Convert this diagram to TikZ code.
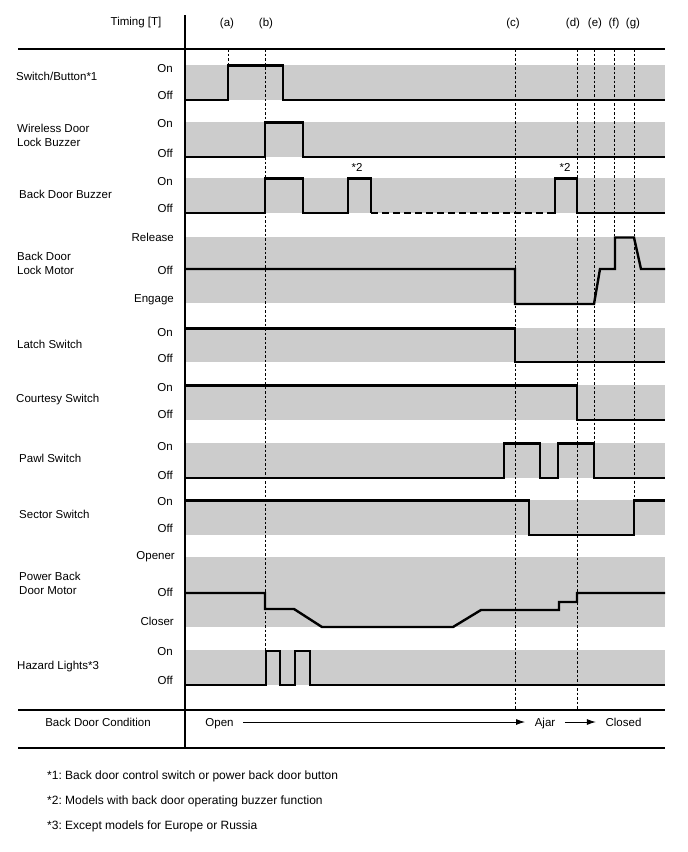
\documentclass[tikz,border=0pt]{standalone}
\usepackage{fontspec}
\setmainfont{Liberation Sans}
\usetikzlibrary{arrows.meta}
\definecolor{bandgray}{RGB}{204,204,204}
\frenchspacing
\begin{document}
\begin{tikzpicture}[x=1pt,y=-1pt,
  sig/.style={line width=2.4pt,line join=miter,line cap=butt},
  sigdash/.style={line width=2.4pt,dash pattern=on 7pt off 4pt},
  tline/.style={line width=0.9pt,dash pattern=on 2.6pt off 1.9pt},
  frame/.style={line width=1.3pt},
  txt/.style={font=\fontsize{11.5}{14}\selectfont,inner sep=0pt},
  note/.style={font=\fontsize{12}{14}\selectfont,inner sep=0pt,anchor=west},
  lvl/.style={txt,anchor=east},
  rowname/.style={txt,anchor=west,align=left},
  cond/.style={txt,inner xsep=9.5pt,text height=8.3pt,text depth=0.3pt},
  condarrow/.style={line width=0.9pt,-{Latex[length=9pt,width=6pt]}}]
\useasboundingbox (0,0) rectangle (688,852);
% grey bands
\foreach \a/\b in {65/100,122/157,178/213,237/303,328/362,385/420,443/478,500/535,557/627,650/685}
  \fill[bandgray] (185,\a) rectangle (665,\b);
% timing lines
\draw[tline] (228,49) -- (228,65);
\draw[tline] (265,49) -- (265,650);
\draw[tline] (515,49) -- (515,710);
\draw[tline] (577,49) -- (577,710);
\draw[tline] (594,49) -- (594,443);
\draw[tline] (614,49) -- (614,237);
\draw[tline] (634,49) -- (634,500);
% frame
\draw[frame] (185,15) -- (185,748);
\draw[frame] (18,49) -- (665,49);
\draw[frame] (18,710) -- (665,710);
\draw[frame] (18,748) -- (665,748);
% header
\node[txt] (timing) at (136,23) {Timing [T]};
\node[txt] (ta) at (227,24) {(a)};
\node[txt] (tb) at (266,24) {(b)};
\node[txt] (tc) at (513,24) {(c)};
\node[txt] (td) at (573,24) {(d)};
\node[txt] (te) at (595,24) {(e)};
\node[txt] (tf) at (614,24) {(f)};
\node[txt] (tg) at (633,24) {(g)};
% row names
\node[rowname] (n1) at (16,76) {Switch/Button*1};
\node[rowname] (n2) at (17,135) {Wireless Door\\Lock Buzzer};
\node[rowname] (n3) at (19,194) {Back Door Buzzer};
\node[rowname] (n4) at (17,263) {Back Door\\Lock Motor};
\node[rowname] (n5) at (17,344) {Latch Switch};
\node[rowname] (n6) at (16,400) {Courtesy Switch};
\node[rowname] (n7) at (19,458) {Pawl Switch};
\node[rowname] (n8) at (19,514) {Sector Switch};
\node[rowname] (n9) at (19,583) {Power Back\\Door Motor};
\node[rowname] (n10) at (17,667) {Hazard Lights*3};
% level labels
\node[lvl] (l1a) at (173,69) {On};
\node[lvl] (l1b) at (173,95) {Off};
\node[lvl] (l2a) at (173,124) {On};
\node[lvl] (l2b) at (173,153) {Off};
\node[lvl] (l3a) at (173,182) {On};
\node[lvl] (l3b) at (173,208) {Off};
\node[lvl] (l4a) at (174,237) {Release};
\node[lvl] (l4b) at (173,270) {Off};
\node[lvl] (l4c) at (174,300) {Engage};
\node[lvl] (l5a) at (173,333) {On};
\node[lvl] (l5b) at (173,358) {Off};
\node[lvl] (l6a) at (173,388) {On};
\node[lvl] (l6b) at (173,414) {Off};
\node[lvl] (l7a) at (173,447) {On};
\node[lvl] (l7b) at (173,475) {Off};
\node[lvl] (l8a) at (173,502) {On};
\node[lvl] (l8b) at (173,528) {Off};
\node[lvl] (l9a) at (175,557) {Opener};
\node[lvl] (l9b) at (173,592) {Off};
\node[lvl] (l9c) at (174,621) {Closer};
\node[lvl] (l10a) at (173,652) {On};
\node[lvl] (l10b) at (173,680) {Off};
% notes over buzzer pulses
\node[txt] (s2a) at (357,167) {*2};
\node[txt] (s2b) at (565,167) {*2};
% signals
\draw[sig] (185,100) -- (228,100) -- (228,65.5) -- (283,65.5) -- (283,100) -- (665,100);
\draw[sig] (185,157) -- (265,157) -- (265,122.5) -- (303,122.5) -- (303,157) -- (665,157);
\draw[sig] (185,213) -- (265,213) -- (265,178.5) -- (303,178.5) -- (303,213) -- (348,213) -- (348,178.5) -- (371,178.5) -- (371,213);
\draw[sigdash] (371,213) -- (552,213);
\draw[sig] (552,213) -- (555,213) -- (555,178.5) -- (577,178.5) -- (577,213) -- (665,213);
\draw[sig] (185,269) -- (515,269) -- (515,304) -- (594,304) -- (600,269) -- (615,269) -- (615,237.5) -- (634,237.5) -- (641,269) -- (665,269);
\draw[sig] (185,328.5) -- (515,328.5) -- (515,362) -- (665,362);
\draw[sig] (185,385.5) -- (577,385.5) -- (577,420) -- (665,420);
\draw[sig] (185,478) -- (504,478) -- (504,443.5) -- (540,443.5) -- (540,478) -- (558,478) -- (558,443.5) -- (594,443.5) -- (594,478) -- (665,478);
\draw[sig] (185,500.5) -- (529,500.5) -- (529,535) -- (634,535) -- (634,500.5) -- (665,500.5);
\draw[sig] (185,593) -- (265,593) -- (265,609) -- (294,609) -- (322,627) -- (453,627) -- (481,610) -- (559,610) -- (559,602) -- (577,602) -- (577,593) -- (665,593);
\draw[sig] (185,685) -- (266,685) -- (266,651) -- (280,651) -- (280,685) -- (295,685) -- (295,651) -- (310,651) -- (310,685) -- (665,685);
% back door condition
\node[txt] (cond) at (98,722) {Back Door Condition};
\node[cond] (open) at (219.5,722) {Open};
\node[cond] (ajar) at (545,722) {Ajar};
\node[cond] (closed) at (623.5,722) {Closed};
\draw[condarrow] (open) -- (ajar);
\draw[condarrow] (ajar) -- (closed);
% footnotes
\node[note] (f1) at (47,776) {*1: Back door control switch or power back door button};
\node[note] (f2) at (47,801) {*2: Models with back door operating buzzer function};
\node[note] (f3) at (47,826) {*3: Except models for Europe or Russia};
\end{tikzpicture}
\end{document}
